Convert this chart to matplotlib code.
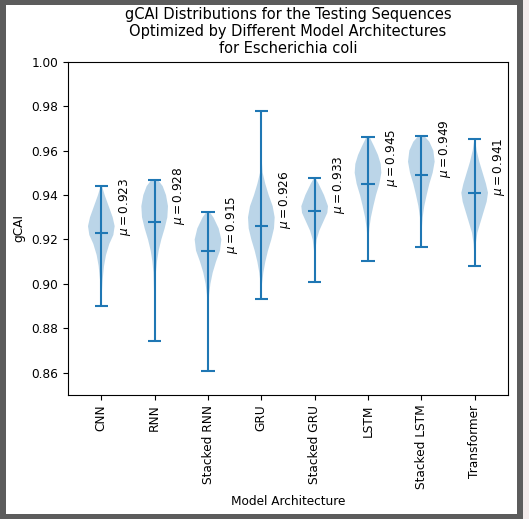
import numpy as np
import matplotlib
matplotlib.use("Agg")
import matplotlib.pyplot as plt
from matplotlib.patches import Rectangle

# Model architectures and summary statistics
models = ["CNN", "RNN", "Stacked RNN", "GRU", "Stacked GRU", "LSTM",
          "Stacked LSTM", "Transformer"]
means = [0.923, 0.928, 0.915, 0.926, 0.933, 0.945, 0.949, 0.941]
mins = [0.890, 0.8745, 0.861, 0.893, 0.9007, 0.9104, 0.9166, 0.908]
maxs = [0.944, 0.9468, 0.9325, 0.9777, 0.9477, 0.9663, 0.9667, 0.9653]

# Violin outlines: (gCAI, relative half-width) pairs
cnn_kde = [(0.890, 0.01), (0.896, 0.04), (0.902, 0.10), (0.908, 0.20),
           (0.913, 0.35), (0.918, 0.60), (0.922, 0.90), (0.926, 1.00),
           (0.930, 0.85), (0.935, 0.55), (0.940, 0.25), (0.944, 0.05)]
rnn_kde = [(0.8745, 0.01), (0.885, 0.02), (0.895, 0.04), (0.905, 0.09),
           (0.910, 0.17), (0.915, 0.30), (0.920, 0.50), (0.925, 0.75),
           (0.930, 0.95), (0.935, 1.00), (0.940, 0.85), (0.944, 0.60),
           (0.9468, 0.25)]
srnn_kde = [(0.861, 0.005), (0.870, 0.01), (0.885, 0.03), (0.895, 0.08),
            (0.900, 0.18), (0.905, 0.35), (0.910, 0.60), (0.915, 0.90),
            (0.920, 1.00), (0.925, 0.80), (0.930, 0.40), (0.9325, 0.10)]
gru_kde = [(0.893, 0.01), (0.900, 0.05), (0.905, 0.15), (0.910, 0.30),
           (0.915, 0.50), (0.920, 0.75), (0.925, 0.95), (0.930, 1.00),
           (0.935, 0.85), (0.940, 0.55), (0.945, 0.30), (0.950, 0.10),
           (0.955, 0.04), (0.965, 0.01), (0.9777, 0.0)]
sgru_kde = [(0.9007, 0.01), (0.908, 0.02), (0.915, 0.05), (0.920, 0.15),
            (0.924, 0.35), (0.928, 0.65), (0.932, 0.95), (0.935, 1.00),
            (0.940, 0.70), (0.945, 0.30), (0.9477, 0.05)]
lstm_kde = [(0.9104, 0.01), (0.920, 0.04), (0.925, 0.10), (0.930, 0.22),
            (0.935, 0.40), (0.940, 0.60), (0.945, 0.85), (0.950, 1.00),
            (0.954, 0.95), (0.958, 0.75), (0.962, 0.45), (0.9663, 0.10)]
slstm_kde = [(0.9166, 0.01), (0.925, 0.04), (0.930, 0.10), (0.935, 0.22),
             (0.940, 0.40), (0.945, 0.60), (0.950, 0.85), (0.955, 1.00),
             (0.960, 0.90), (0.964, 0.60), (0.9667, 0.20)]
trans_kde = [(0.908, 0.01), (0.913, 0.03), (0.918, 0.08), (0.923, 0.20),
             (0.928, 0.45), (0.933, 0.70), (0.937, 0.90), (0.941, 1.00),
             (0.945, 0.85), (0.950, 0.60), (0.955, 0.35), (0.960, 0.15),
             (0.9653, 0.02)]
profiles = [cnn_kde, rnn_kde, srnn_kde, gru_kde, sgru_kde, lstm_kde,
            slstm_kde, trans_kde]

plt.rcParams["font.size"] = 8.75

fig = plt.figure(figsize=(5.29, 5.19), dpi=100)
ax = fig.add_axes([68 / 529, 1 - 395 / 519, 440 / 529, 333.3 / 519])

vpstats = []
for prof, m, lo, hi in zip(profiles, means, mins, maxs):
    prof = np.array(prof)
    vpstats.append({"coords": prof[:, 0], "vals": prof[:, 1], "mean": m,
                    "median": m, "min": lo, "max": hi})

positions = np.arange(1, len(models) + 1)
ax.violin(vpstats, positions=positions, widths=0.5,
          showmeans=True, showextrema=True)

for pos, m in zip(positions, means):
    ax.text(pos + 0.3, m - 0.0015, rf"$\mu = {m:.3f}$", rotation=90,
            ha="left", va="bottom")

ax.set_xticks(positions)
ax.set_xticklabels(models, rotation=90)
ax.set_ylim(0.85, 1.0)
ax.set_xlabel("Model Architecture")
ax.set_ylabel("gCAI")
ax.set_title("gCAI Distributions for the Testing Sequences\n"
             "Optimized by Different Model Architectures\n"
             "for Escherichia coli", fontsize=10.5)

# grey frame round the picture
fig.patches.append(Rectangle((0, 0), 1, 1, transform=fig.transFigure,
                             facecolor="#f2eaea", edgecolor="none", zorder=-3))
fig.patches.append(Rectangle((0.0, 0.0), 523 / 529, 1.0,
                             transform=fig.transFigure, facecolor="#5c5c5c",
                             edgecolor="none", zorder=-2))
fig.patches.append(Rectangle((6 / 529, 5 / 519), 511 / 529, 509 / 519,
                             transform=fig.transFigure, facecolor="white",
                             edgecolor="none", zorder=-1))

fig.savefig("out.png", dpi=100)
